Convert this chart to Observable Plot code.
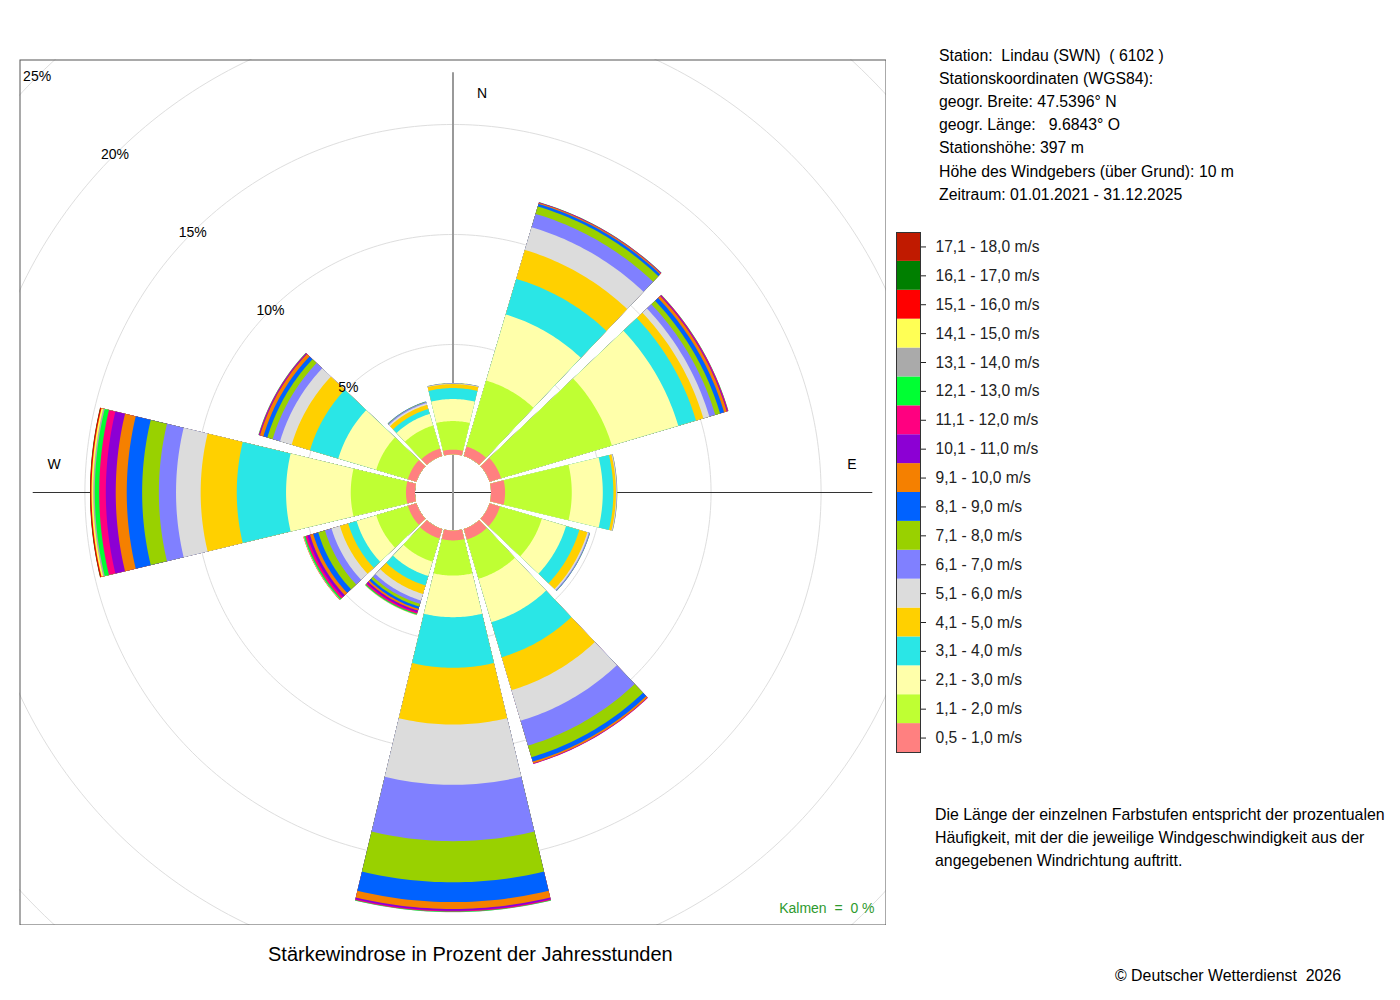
<!DOCTYPE html>
<html><head><meta charset="utf-8">
<script src="https://cdn.jsdelivr.net/npm/d3@7"></script>
<script src="https://cdn.jsdelivr.net/npm/@observablehq/plot@0.6"></script>
<style>
body{margin:0;background:#fff;font-family:"Liberation Sans",Arial,sans-serif;}
#page{position:relative;width:1400px;height:1000px;overflow:hidden;}
.t{position:absolute;white-space:pre;color:#000;font-size:15px;line-height:23.2px;}
</style></head><body><div id="page"></div>
<script>
// ---- data ----
const directions = [0, 30, 60, 90, 120, 150, 180, 210, 240, 270, 300, 330];
const speedClasses = ["0,5 - 1,0 m/s","1,1 - 2,0 m/s","2,1 - 3,0 m/s","3,1 - 4,0 m/s","4,1 - 5,0 m/s","5,1 - 6,0 m/s","6,1 - 7,0 m/s","7,1 - 8,0 m/s","8,1 - 9,0 m/s","9,1 - 10,0 m/s","10,1 - 11,0 m/s","11,1 - 12,0 m/s","12,1 - 13,0 m/s","13,1 - 14,0 m/s","14,1 - 15,0 m/s","15,1 - 16,0 m/s","16,1 - 17,0 m/s","17,1 - 18,0 m/s"];
const classColors = ["#FF8080","#BFFF33","#FFFFAA","#2AE6E6","#FFD000","#DCDCDC","#8080FF","#99D100","#0062FF","#F58000","#8C00D4","#FF0080","#00FF33","#AAAAAA","#FFFF55","#FF0000","#007F00","#C01A00"];
// percent of hours per speed class (low -> high) for each direction
const freqN   = [0.22, 1.30, 1.00, 0.50, 0.18, 0.02, 0.02, 0.01];
const freqNNE = [0.45, 3.13, 3.13, 1.69, 1.37, 1.08, 0.63, 0.35, 0.12, 0.05, 0.02, 0.01, 0.01];
const freqENE = [0.55, 5.25, 3.15, 0.84, 0.35, 0.28, 0.28, 0.23, 0.19, 0.13, 0.04, 0.03, 0.01];
const freqE   = [0.64, 3.03, 1.41, 0.48, 0.12, 0.03, 0.02, 0.01];
const freqESE = [0.50, 1.98, 1.15, 0.63, 0.38, 0.07, 0.04, 0.01, 0.01];
const freqSSE = [0.50, 1.86, 2.06, 1.66, 1.56, 1.45, 1.18, 0.55, 0.21, 0.08, 0.02, 0.01];
const freqS   = [0.45, 1.60, 1.89, 2.30, 2.58, 2.74, 2.56, 1.87, 0.90, 0.31, 0.08, 0.04, 0.02, 0.01];
const freqSSW = [0.45, 1.10, 0.68, 0.45, 0.40, 0.31, 0.16, 0.13, 0.11, 0.08, 0.08, 0.07, 0.04, 0.02, 0.01];
const freqWSW = [0.41, 1.50, 0.93, 0.40, 0.39, 0.40, 0.31, 0.32, 0.24, 0.15, 0.12, 0.10, 0.06, 0.02, 0.01, 0.01];
const freqW   = [0.41, 2.51, 2.94, 2.24, 1.64, 1.12, 0.78, 0.76, 0.70, 0.50, 0.45, 0.30, 0.20, 0.07, 0.08, 0.05, 0.01, 0.01];
const freqWNW = [0.41, 1.50, 1.80, 1.34, 0.87, 0.55, 0.35, 0.25, 0.19, 0.16, 0.04, 0.02, 0.01, 0.01];
const freqNNW = [0.36, 1.09, 0.55, 0.23, 0.20, 0.08, 0.05, 0.02, 0.01];
const ringPercents = [5, 10, 15, 20, 25];
const compassNames = ["N", "E", "W"];
const compassDirs = [0, 90, 270];
const calmText = "Kalmen  =  0 %";
const stationLines = ["Station:  Lindau (SWN)  ( 6102 )","Stationskoordinaten (WGS84):","geogr. Breite: 47.5396° N","geogr. Länge:   9.6843° O","Stationshöhe: 397 m","Höhe des Windgebers (über Grund): 10 m","Zeitraum: 01.01.2021 - 31.12.2025"];
const noteLines = ["Die Länge der einzelnen Farbstufen entspricht der prozentualen","Häufigkeit, mit der die jeweilige Windgeschwindigkeit aus der","angegebenen Windrichtung auftritt."];
const titleText = "Stärkewindrose in Prozent der Jahresstunden";
const copyrightText = "© Deutscher Wetterdienst  2026";

// ---- geometry helpers (data-derived) ----
const freqByDirection = [freqN, freqNNE, freqENE, freqE, freqESE, freqSSE, freqS, freqSSW, freqWSW, freqW, freqWNW, freqNNW];
const hole = 1.727;      // inner empty radius, in percent units
const halfWidth = 13.5;  // half sector width in degrees
const rad = Math.PI / 180;
const px = (r, a) => r * Math.sin(a * rad);
const py = (r, a) => r * Math.cos(a * rad);

const wedgeRows = [];
directions.forEach((dir, i) => {
  const f = freqByDirection[i];
  let cum = 0;
  const wedges = [];
  f.forEach((v, k) => { cum += v; if (v > 0) wedges.push({k, r: hole + cum}); });
  wedges.reverse().forEach(w => {
    const id = dir + "-" + w.k;
    const a1 = dir - halfWidth, a2 = dir + halfWidth, n = 30;
    for (let j = 0; j <= n; j++) { const a = a1 + (a2 - a1) * j / n; wedgeRows.push({id, cls: speedClasses[w.k], x: px(w.r, a), y: py(w.r, a)}); }
    for (let j = n; j >= 0; j--) { const a = a1 + (a2 - a1) * j / n; wedgeRows.push({id, cls: speedClasses[w.k], x: px(hole, a), y: py(hole, a)}); }
  });
});
const maxR = hole + d3.max(freqByDirection, f => d3.sum(f));

const circleRows = ringPercents.flatMap(p => d3.range(0, 361, 1).map(a => ({p, x: px(hole + p, a), y: py(hole + p, a)})));
const labelR = 18.13;
const font = '"Liberation Sans", Arial, Helvetica, sans-serif';

const rose = Plot.plot({
  width: 867, height: 866, margin: 0,
  x: {domain: [-19.7, 19.7], axis: null},
  y: {domain: [-19.68, 19.68], axis: null},
  color: {type: "ordinal", domain: speedClasses, range: classColors},
  style: {fontFamily: font, fontSize: "14px", overflow: "hidden", background: "white", color: "black"},
  marks: [
    Plot.line(circleRows, {x: "x", y: "y", z: "p", stroke: "#dedede", strokeWidth: 1}),
    Plot.ruleY([0], {x1: -maxR, x2: maxR, stroke: "#333", strokeWidth: 1}),
    Plot.ruleX([0], {y1: -maxR, y2: maxR, stroke: "#999", strokeWidth: 2}),
    Plot.line(wedgeRows, {x: "x", y: "y", z: "id", fill: "cls", stroke: "none"}),
    Plot.text(ringPercents, {x: p => -(hole + p) * Math.SQRT1_2, y: p => (hole + p) * Math.SQRT1_2, text: p => p + "%", fontSize: 14, fill: "black"}),
    Plot.text([compassNames[0]], {x: px(labelR, compassDirs[0]), y: py(labelR, compassDirs[0]), text: d => d, dx: 29, fontSize: 14, fill: "black"}),
    Plot.text([compassNames[1]], {x: px(labelR, compassDirs[1]), y: py(labelR, compassDirs[1]), text: d => d, dy: -28, fontSize: 14, fill: "black"}),
    Plot.text([compassNames[2]], {x: px(labelR, compassDirs[2]), y: py(labelR, compassDirs[2]), text: d => d, dy: -28, fontSize: 14, fill: "black"}),
    Plot.text([calmText], {frameAnchor: "bottom-right", textAnchor: "end", lineAnchor: "middle", dx: -12, dy: -17, text: d => d, fill: "#2e9a2e", fontSize: 14}),
    Plot.frame({stroke: "#555", inset: 0.5})
  ]
});
rose.style.position = "absolute";
rose.style.left = "19px";
rose.style.top = "59px";

const legend = Plot.plot({
  width: 170, height: 540, marginLeft: 6, marginRight: 140, marginTop: 10, marginBottom: 10,
  x: {domain: [0, 1], axis: null},
  y: {type: "band", domain: speedClasses.slice().reverse(), padding: 0, round: false, axis: "right", tickSize: 5, tickPadding: 10, label: null},
  color: {type: "ordinal", domain: speedClasses, range: classColors},
  style: {fontFamily: font, fontSize: "15.6px", background: "white", color: "#222", overflow: "visible"},
  marks: [
    Plot.barX(speedClasses, {x1: 0, x2: 1, y: d => d, fill: d => d}),
    Plot.frame({stroke: "#333"})
  ]
});
legend.style.position = "absolute";
legend.style.left = "890px";
legend.style.top = "222px";

const page = document.getElementById("page");
page.appendChild(rose);
page.appendChild(legend);

function addText(lines, left, top, size, lh) {
  const div = document.createElement("div");
  div.className = "t";
  div.style.left = left + "px";
  div.style.top = top + "px";
  div.style.fontSize = size + "px";
  div.style.lineHeight = lh + "px";
  div.textContent = lines.join("\n");
  page.appendChild(div);
}
addText(stationLines, 939, 43.5, 15.8, 23.2);
addText(noteLines, 935, 802.5, 15.9, 23);
addText([titleText], 268, 942, 20, 24);
addText([copyrightText], 1115, 966, 15.9, 20);
</script></body></html>
